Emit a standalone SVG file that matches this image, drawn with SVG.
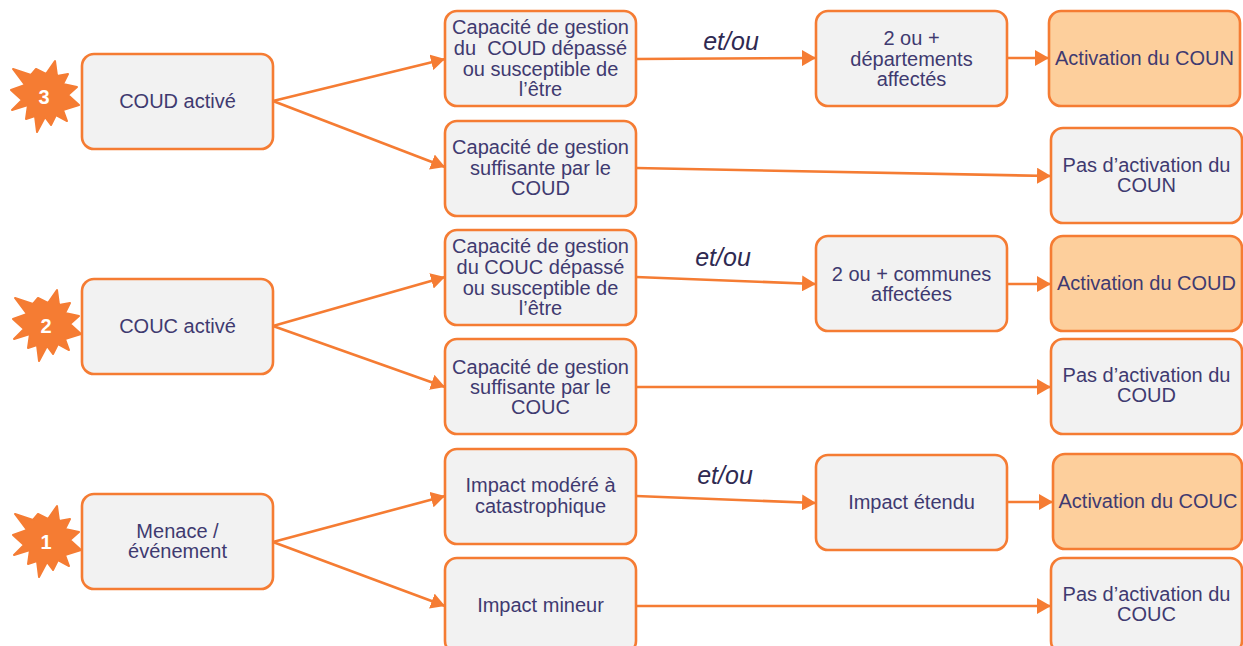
<svg xmlns="http://www.w3.org/2000/svg" width="1243" height="646" viewBox="0 0 1243 646">
<style>
.b{fill:#f2f2f2;stroke:#f57c33;stroke-width:2.6}
.h{fill:#fdcf9c}
text{font-family:"Liberation Sans",Arial,sans-serif;font-size:20px;fill:#3f3a70;text-anchor:middle}
.n{font-weight:bold;fill:#fff;font-size:20px}
.e{font-style:italic;font-size:25px;fill:#2f2a52}
.c line{stroke:#f57c33;stroke-width:2.6;marker-end:url(#a)}
.s{fill:#f57c33}
</style>
<defs>
<marker id="a" markerUnits="userSpaceOnUse" markerWidth="16" markerHeight="16" refX="14" refY="8" orient="auto"><path d="M0 0L14 8L0 16Z" fill="#f57c33"/></marker>
<path id="star" d="M-31-28L-13-22L-8-28L2-23L11-36L13-21L24-23L19-13L33-10L24-2L35 8L19 13L23 24L12 18L7 28L1 20L-7 35L-9 19L-18 22L-16 8L-32 13L-22 3L-33-7L-19-12Z" stroke="#f57c33" stroke-width="2" stroke-linejoin="round"/>
</defs>
<g id="burst3"><use href="#star" class="s" x="44" y="97"/><text class="n" x="44" y="104">3</text></g>
<g id="burst2"><use href="#star" class="s" x="46" y="326"/><text class="n" x="46" y="333">2</text></g>
<g id="burst1"><use href="#star" class="s" x="46" y="542"/><text class="n" x="46" y="549">1</text></g>
<g id="coud"><rect class="b" x="82" y="54" width="191" height="95" rx="12"/><text x="177.500" y="108">COUD activé</text></g>
<g id="couc"><rect class="b" x="82" y="279" width="191" height="95" rx="12"/><text x="177.500" y="333">COUC activé</text></g>
<g id="menace"><rect class="b" x="82" y="494" width="191" height="95" rx="12"/><text x="177.500" y="538">Menace /</text><text x="177.500" y="558">événement</text></g>
<g id="cap1"><rect class="b" x="445" y="11" width="191" height="95" rx="12"/><text x="540.500" y="34">Capacité de gestion</text><text x="540.500" y="55" xml:space="preserve">du  COUD dépassé</text><text x="540.500" y="76">ou susceptible de</text><text x="540.500" y="96">l’être</text></g>
<g id="cap2"><rect class="b" x="445" y="121" width="191" height="95" rx="12"/><text x="540.500" y="154">Capacité de gestion</text><text x="540.500" y="175">suffisante par le</text><text x="540.500" y="195">COUD</text></g>
<g id="cap3"><rect class="b" x="445" y="230" width="191" height="95" rx="12"/><text x="540.500" y="253">Capacité de gestion</text><text x="540.500" y="274">du COUC dépassé</text><text x="540.500" y="295">ou susceptible de</text><text x="540.500" y="315">l’être</text></g>
<g id="cap4"><rect class="b" x="445" y="339" width="191" height="95" rx="12"/><text x="540.500" y="374">Capacité de gestion</text><text x="540.500" y="394">suffisante par le</text><text x="540.500" y="414">COUC</text></g>
<g id="imp1"><rect class="b" x="445" y="449" width="191" height="95" rx="12"/><text x="540.500" y="492">Impact modéré à</text><text x="540.500" y="513">catastrophique</text></g>
<g id="imp2"><rect class="b" x="445" y="558" width="191" height="95" rx="12"/><text x="540.500" y="612">Impact mineur</text></g>
<g id="dep"><rect class="b" x="816" y="11" width="191" height="95" rx="12"/><text x="911.500" y="45">2 ou +</text><text x="911.500" y="66">départements</text><text x="911.500" y="86">affectés</text></g>
<g id="com"><rect class="b" x="816" y="236" width="191" height="95" rx="12"/><text x="911.500" y="281">2 ou + communes</text><text x="911.500" y="301">affectées</text></g>
<g id="eten"><rect class="b" x="816" y="455" width="191" height="95" rx="12"/><text x="911.500" y="509">Impact étendu</text></g>
<g id="a1"><rect class="b h" x="1049" y="11" width="191" height="95" rx="12"/><text x="1144.500" y="65">Activation du COUN</text></g>
<g id="a2"><rect class="b h" x="1051" y="236" width="191" height="95" rx="12"/><text x="1146.500" y="290">Activation du COUD</text></g>
<g id="a3"><rect class="b h" x="1053" y="454" width="189" height="95" rx="12"/><text x="1148" y="508">Activation du COUC</text></g>
<g id="p1"><rect class="b" x="1051" y="128" width="191" height="95" rx="12"/><text x="1146.500" y="172">Pas d’activation du</text><text x="1146.500" y="192">COUN</text></g>
<g id="p2"><rect class="b" x="1051" y="339" width="191" height="95" rx="12"/><text x="1146.500" y="382">Pas d’activation du</text><text x="1146.500" y="402">COUD</text></g>
<g id="p3"><rect class="b" x="1051" y="558" width="191" height="95" rx="12"/><text x="1146.500" y="601">Pas d’activation du</text><text x="1146.500" y="621">COUC</text></g>
<g class="c">
<line x1="273" y1="101" x2="445" y2="59"/>
<line x1="273" y1="101" x2="445" y2="167"/>
<line x1="636" y1="59" x2="816" y2="58"/>
<line x1="1007" y1="58" x2="1049" y2="58"/>
<line x1="636" y1="168" x2="1051" y2="176"/>
<line x1="273" y1="326" x2="445" y2="277"/>
<line x1="273" y1="326" x2="445" y2="387"/>
<line x1="636" y1="277" x2="816" y2="284"/>
<line x1="1007" y1="284" x2="1051" y2="284"/>
<line x1="636" y1="387" x2="1051" y2="387"/>
<line x1="273" y1="542" x2="445" y2="496"/>
<line x1="273" y1="542" x2="445" y2="606"/>
<line x1="636" y1="496" x2="816" y2="503"/>
<line x1="1007" y1="502" x2="1053" y2="502"/>
<line x1="636" y1="606" x2="1051" y2="606"/>
</g>
<text class="e" x="731" y="50">et/ou</text>
<text class="e" x="723" y="266">et/ou</text>
<text class="e" x="725" y="484">et/ou</text>
</svg>
